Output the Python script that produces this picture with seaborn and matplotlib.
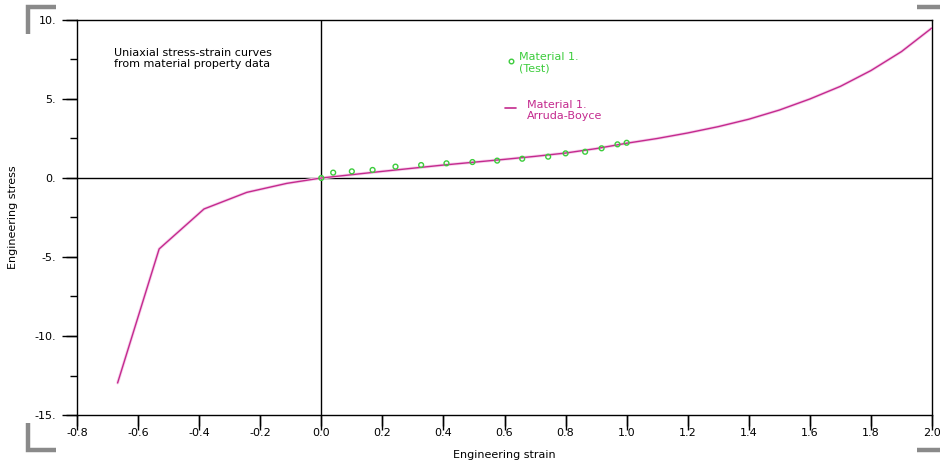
import matplotlib
matplotlib.use("Agg")
import matplotlib.pyplot as plt
import matplotlib.patheffects as pe
from matplotlib.lines import Line2D
from matplotlib.ticker import FixedLocator, FuncFormatter
import numpy as np
import pandas as pd
import seaborn as sns

# Arruda-Boyce fitted curve (engineering strain, engineering stress)
fit_strain = [-0.667, -0.531, -0.384, -0.244, -0.113, 0.0, 0.1, 0.2, 0.3, 0.4,
              0.5, 0.6, 0.7, 0.8, 0.9, 1.0, 1.1, 1.2, 1.3, 1.4, 1.5, 1.6,
              1.7, 1.8, 1.9, 2.0]
fit_stress = [-12.97, -4.49, -1.96, -0.91, -0.34, 0.0, 0.21, 0.42, 0.62, 0.82,
              1.0, 1.18, 1.37, 1.58, 1.86, 2.2, 2.5, 2.85, 3.25, 3.72, 4.3,
              5.0, 5.8, 6.8, 8.0, 9.5]

# Test data points
test_strain = [0.0, 0.039, 0.10, 0.168, 0.243, 0.327, 0.41, 0.495, 0.576,
               0.658, 0.743, 0.80, 0.864, 0.918, 0.97, 1.0]
test_stress = [0.0, 0.34, 0.42, 0.51, 0.72, 0.82, 0.93, 1.01, 1.10,
               1.22, 1.35, 1.56, 1.66, 1.88, 2.13, 2.23]

x_ticks = [-0.8, -0.6, -0.4, -0.2, 0.0, 0.2, 0.4, 0.6, 0.8, 1.0, 1.2, 1.4, 1.6, 1.8, 2.0]
y_ticks = [-15, -10, -5, 0, 5, 10]
y_minor_ticks = [-12.5, -7.5, -2.5, 2.5, 7.5]

MAGENTA = "#c42a8e"
GREEN = "#3ccc3c"

sns.set_style("ticks")
plt.rcParams.update({
    "font.family": ["DejaVu Sans"],
    "xtick.bottom": True, "xtick.top": False,
    "ytick.left": True, "ytick.right": False,
    "xtick.direction": "out", "ytick.direction": "out",
    "xtick.major.size": 11, "ytick.major.size": 11,
    "ytick.minor.size": 5, "xtick.major.width": 1.0,
    "ytick.major.width": 1.0, "ytick.minor.width": 1.0,
    "xtick.color": "black", "ytick.color": "black",
    "xtick.labelcolor": "black", "ytick.labelcolor": "black",
    "xtick.labelsize": 8, "ytick.labelsize": 8,
    "xtick.major.pad": -2, "ytick.major.pad": 4,
})

W, H = 940, 474
fig = plt.figure(figsize=(W / 100, H / 100), dpi=100)
ax = fig.add_axes([77 / W, 1 - 415 / H, (932 - 77) / W, (415 - 20) / H])

fit_df = pd.DataFrame({"strain": fit_strain, "stress": fit_stress})
test_df = pd.DataFrame({"strain": test_strain, "stress": test_stress})

ax.axhline(0, color="black", lw=1.0, zorder=1)
ax.axvline(0, color="black", lw=1.0, zorder=1)

sns.lineplot(data=fit_df, x="strain", y="stress", ax=ax, color=MAGENTA,
             lw=1.0, sort=False, estimator=None, zorder=3,
             path_effects=[pe.Stroke(linewidth=2.2, foreground="#f6d2ec"), pe.Normal()])
sns.scatterplot(data=test_df, x="strain", y="stress", ax=ax, marker="o",
                s=12, facecolor="none", edgecolor=GREEN, linewidth=1.0, zorder=4)

ax.set_xlim(-0.8, 2.0)
ax.set_ylim(-15, 10)
ax.xaxis.set_major_locator(FixedLocator(x_ticks))
ax.yaxis.set_major_locator(FixedLocator(y_ticks))
ax.yaxis.set_minor_locator(FixedLocator(y_minor_ticks))
ax.xaxis.set_major_formatter(FuncFormatter(lambda v, p: f"{v:.1f}"))
ax.yaxis.set_major_formatter(FuncFormatter(lambda v, p: f"{v:.0f}."))

for s in ax.spines.values():
    s.set_visible(True)
    s.set_color("black")
    s.set_linewidth(1.0)

ax.set_xlabel("Engineering strain", fontsize=8, labelpad=9, color="black")
ax.set_ylabel("Engineering stress", fontsize=8, labelpad=12, color="black")

ax.text(0.043, 0.93, "Uniaxial stress-strain curves\nfrom material property data",
        transform=ax.transAxes, fontsize=8, va="top", ha="left",
        linespacing=1.15, color="black")

# legend entries
ax.plot([0.5075], [0.897], transform=ax.transAxes, marker="o", ms=3.3,
        mfc="none", mec=GREEN, mew=1.0, ls="none")
ax.text(0.5175, 0.918, "Material 1.\n(Test)", transform=ax.transAxes,
        fontsize=8, va="top", ha="left", color=GREEN, linespacing=1.1)
ax.plot([0.5, 0.513], [0.776, 0.776], transform=ax.transAxes, color=MAGENTA, lw=1.2)
ax.text(0.526, 0.798, "Material 1.\nArruda-Boyce", transform=ax.transAxes,
        fontsize=8, va="top", ha="left", color=MAGENTA, linespacing=1.1)

ax.tick_params(axis="x", which="minor", bottom=False, top=False)

# explicit outward tick strokes at the major tick positions (11 px long)
x_len = 11 / (415 - 20)
y_len = 11 / (932 - 77)
for v in x_ticks:
    ax.plot([v, v], [0, -x_len], transform=ax.get_xaxis_transform(),
            color="black", lw=1.0, clip_on=False, solid_capstyle="butt", zorder=6)
for v in y_ticks:
    ax.plot([0, -y_len], [v, v], transform=ax.get_yaxis_transform(),
            color="black", lw=1.0, clip_on=False, solid_capstyle="butt", zorder=6)

# corner brackets
GRAY = "#8a8a8a"
def fpx(x, y):
    return x / W, 1 - y / H
for pts in [[(28, 34), (28, 7), (56, 7)],
            [(28, 423), (28, 450), (56, 450)],
            [(917, 7), (940, 7)],
            [(917, 450), (940, 450)]]:
    xs, ys = zip(*[fpx(*p) for p in pts])
    fig.add_artist(Line2D(xs, ys, color=GRAY, lw=3.2, solid_capstyle="butt",
                          solid_joinstyle="miter"))

fig.savefig("out.png", dpi=100, facecolor="white")
